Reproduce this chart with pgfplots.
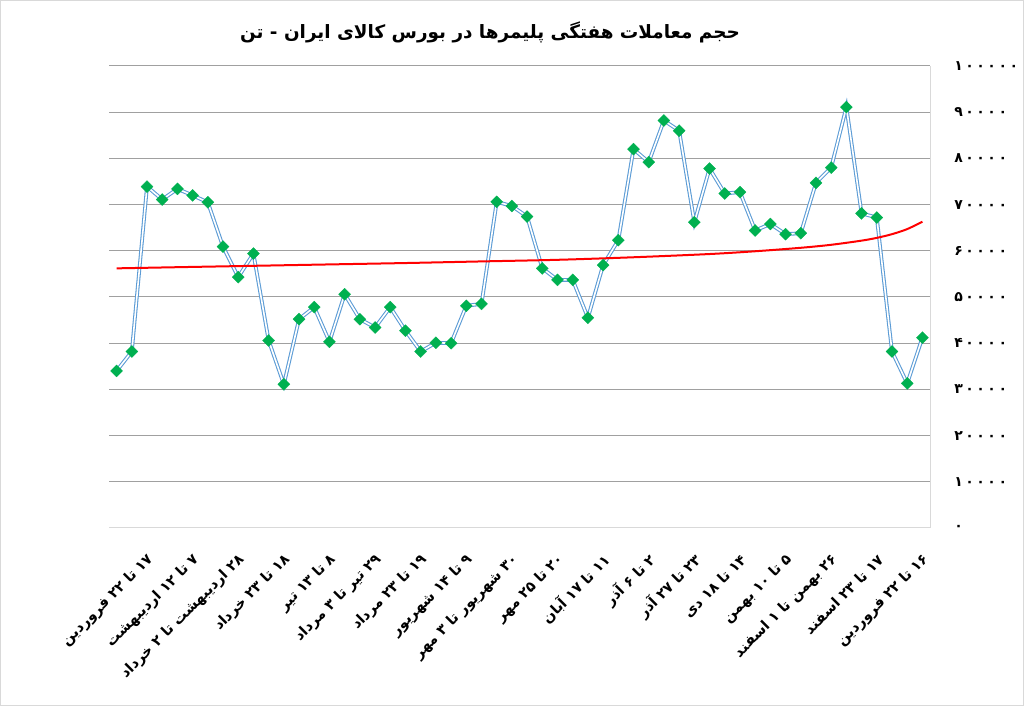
\documentclass[border=0pt]{standalone}
\usepackage{fontspec}
\usepackage{pgfplots}
\usepackage{pgfplotstable}
\pgfplotsset{compat=1.18}
\TeXXeTstate=1
\newfontfamily\arabicfont[Script=Arabic]{DejaVu Sans}
\newfontfamily\digitfont[LetterSpace=18]{DejaVu Sans}
\newcommand\RL[1]{\beginR #1\endR}
\definecolor{mgreen}{HTML}{00B050}
\definecolor{mblue}{HTML}{5B9BD5}
\definecolor{gridgray}{HTML}{A0A0A0}
\definecolor{axgray}{HTML}{D9D9D9}
\definecolor{frame}{HTML}{D9D9D9}

\pgfplotstableread{
x y
1 34000
2 38200
3 73900
4 71100
5 73400
6 72000
7 70500
8 60900
9 54300
10 59400
11 40600
12 31100
13 45200
14 47800
15 40300
16 50600
17 45200
18 43400
19 47800
20 42700
21 38200
22 40100
23 40000
24 48100
25 48500
26 70600
27 69700
28 67400
29 56200
30 53700
31 53700
32 45500
33 56900
34 62300
35 82000
36 79200
37 88200
38 86000
39 66200
40 77800
41 72400
42 72700
43 64400
44 65800
45 63600
46 63800
47 74700
48 78000
49 91100
50 68100
51 67200
52 38200
53 31300
54 41200
}\volume

\pgfplotstableread{
x y
1 56200
5 56450
10 56750
15 57050
20 57350
25 57700
30 58050
35 58600
40 59300
43 59900
46 60650
48 61300
50 62200
51 62800
52 63600
53 64700
54 66300
}\trend

\begin{document}
\begin{tikzpicture}
\useasboundingbox (-81.75pt,-133.5pt) rectangle (686.25pt,396pt);
\draw[frame, line width=0.75pt] (-81.4pt,-133.1pt) rectangle (685.9pt,395.6pt);
\begin{axis}[
  at={(0,0)}, anchor=south west,
  scale only axis,
  width=615.75pt, height=346.5pt,
  xmin=0.5, xmax=54.5,
  ymin=0, ymax=100000,
  axis x line*=bottom,
  axis y line*=right,
  x axis line style={axgray, line width=0.75pt, -},
  y axis line style={axgray, line width=0.75pt, -},
  ymajorgrids,
  grid style={gridgray, line width=0.75pt},
  major tick length=0pt,
  ytick={0,10000,...,100000},
  yticklabels={۰,۱۰۰۰۰,۲۰۰۰۰,۳۰۰۰۰,۴۰۰۰۰,۵۰۰۰۰,۶۰۰۰۰,۷۰۰۰۰,۸۰۰۰۰,۹۰۰۰۰,۱۰۰۰۰۰},
  yticklabel style={font=\digitfont\bfseries\fontsize{10.5}{12}\selectfont, anchor=west, inner sep=0pt, xshift=18pt},
  scaled y ticks=false,
  xtick={3,6,...,54},
  xticklabels={
    \RL{۱۷ تا ۲۲ فروردین},
    \RL{۷ تا ۱۲ اردیبهشت},
    \RL{۲۸ اردیبهشت تا ۲ خرداد},
    \RL{۱۸ تا ۲۳ خرداد},
    \RL{۸ تا ۱۳ تیر},
    \RL{۲۹ تیر تا ۳ مرداد},
    \RL{۱۹ تا ۲۳ مرداد},
    \RL{۹ تا ۱۴ شهریور},
    \RL{۳۰ شهریور تا ۳ مهر},
    \RL{۲۰ تا ۲۵ مهر},
    \RL{۱۱ تا ۱۷ آبان},
    \RL{۲ تا ۶ آذر},
    \RL{۲۳ تا ۲۷ آذر},
    \RL{۱۴ تا ۱۸ دی},
    \RL{۵ تا ۱۰ بهمن},
    \RL{۲۶ بهمن تا ۱ اسفند},
    \RL{۱۷ تا ۲۳ اسفند},
    \RL{۱۶ تا ۲۲ فروردین}},
  xticklabel style={font=\arabicfont\bfseries\fontsize{10.8}{12}\selectfont, inner sep=0pt, xshift=3pt, yshift=-22pt, rotate=45, anchor=east},
  clip=false,
]
\addplot[mblue, line width=0.8pt, double=white, double distance=1.2pt, no marks] table[x=x,y=y] {\volume};
\addplot[red, line width=1.5pt, smooth, no marks] table[x=x,y=y] {\trend};
\addplot[only marks, mark=square*, mark size=3.2pt, mark options={rotate=45, fill=mgreen, draw=mgreen, line width=0.2pt}] table[x=x,y=y] {\volume};
\end{axis}
\node[font=\arabicfont\bfseries\fontsize{13.8}{16}\selectfont, inner sep=0pt] at (285.75pt,372pt) {\RL{حجم معاملات هفتگی پلیمرها در بورس کالای ایران - تن}};
\end{tikzpicture}
\end{document}
